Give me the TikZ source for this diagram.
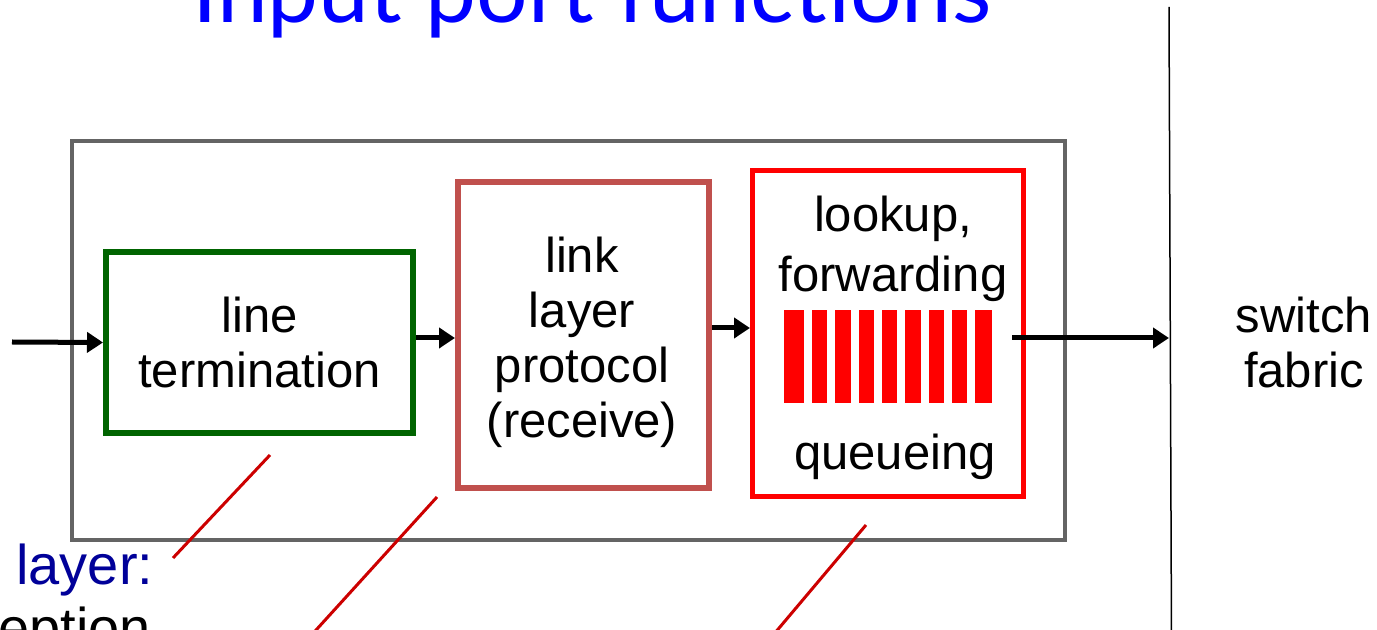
\documentclass[tikz,border=0pt]{standalone}
\usepackage{fontspec}
\setmainfont{Liberation Sans}
\newfontfamily\titlefont{Lato}
\usetikzlibrary{arrows.meta}
\definecolor{termgreen}{RGB}{0,100,0}
\definecolor{linkred}{RGB}{192,80,77}
\definecolor{callred}{RGB}{204,0,0}
\definecolor{portgray}{RGB}{100,100,100}
\definecolor{layerblue}{RGB}{0,0,153}

\begin{document}
\begin{tikzpicture}[x=0.5pt, y=-0.5pt,
  txt/.style={font=\fontsize{24.5}{27.5}\selectfont, align=center, inner sep=0pt},
  box/.style={draw, line width=3pt, inner sep=0pt, txt},
  flow/.style={line width=2.5pt, -{Triangle[length=8pt, width=10pt]}},
  callout/.style={callred, line width=1.5pt}]
\useasboundingbox (0,0) rectangle (1377,630);
\node[font=\titlefont\fontsize{45.5}{48}\selectfont, text=blue, anchor=base] (title) at (592,23) {Input port functions};
\draw[black, line width=0.75pt] (1169,7) coordinate (fabtop) -- (1171.5,640) coordinate (fabbot);
\node[txt] (fabric) at (1304,342) {switch\\fabric};
\node[draw=portgray, line width=2pt, minimum width=496.5pt, minimum height=199.5pt] (port) at (568.5,340.5) {};
\node[box, draw=termgreen, minimum width=153.5pt, minimum height=90.5pt] (lineterm) at (259.5,342.5) {line\\termination};
\node[box, draw=linkred, minimum width=125.5pt, minimum height=153pt] (linkproto) at (583.5,335) {};
\node[txt] (linktxt) at (582,342) {link\\layer\\protocol\\(receive)};
\node[box, draw=red, line width=2.5pt, minimum width=135.25pt, minimum height=163.25pt] (lookup) at (887.75,333.75) {};
\node[txt, anchor=base] (lkp) at (893,232) {lookup,};
\node[txt, anchor=base] (fwd) at (893,292) {forwarding};
\fill[red] (784,310) rectangle (992,403);
\foreach \i in {0,...,7}
  \fill[white] (804+23.3*\i,310) rectangle ++(8,93);
\node[txt, anchor=base] (queue) at (895,470) {queueing};
\coordinate (in) at (12,342);
\coordinate (out) at (1012,338);
\draw[flow] (in) -- (lineterm.west);
\draw[flow] ([yshift=2.25pt]lineterm.east) -- ([yshift=2.25pt]lineterm.east -| linkproto.west);
\draw[flow] ([yshift=3.5pt]linkproto.east) -- ([yshift=3.5pt]linkproto.east -| lookup.west);
\draw[flow] (out) -- (out -| fabtop);
\node[font=\fontsize{28}{31}\selectfont, text=layerblue, anchor=base west, inner sep=0pt] (phys) at (16,585) {layer:};
\node[font=\fontsize{28}{31}\selectfont, anchor=base west, inner sep=0pt] (recv) at (-2,647) {eption};
\coordinate (c1a) at (270,455);
\coordinate (c1b) at (173,558);
\coordinate (c2a) at (437,497);
\coordinate (c2b) at (307,640);
\coordinate (c3a) at (866,525);
\coordinate (c3b) at (769,640);
\draw[callout] (c1a) -- (c1b);
\draw[callout] (c2a) -- (c2b);
\draw[callout] (c3a) -- (c3b);
\end{tikzpicture}
\end{document}
